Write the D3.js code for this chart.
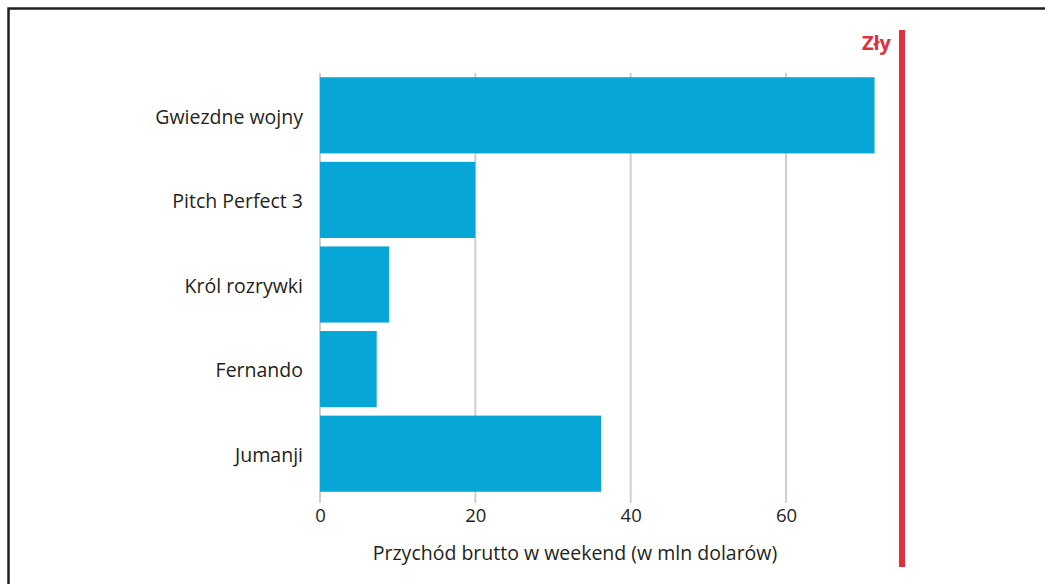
<!DOCTYPE html>
<html lang="pl">
<head>
<meta charset="UTF-8">
<title>Przychód brutto w weekend</title>
<script src="https://d3js.org/d3.v7.min.js"></script>
<style>
    body { margin: 0; background: #fff; }
    text { font-family: "Open Sans", sans-serif; fill: #231f20; }
</style>
</head>
<body>
<div id="chart"></div>
<script>
// data
const movies = ["Gwiezdne wojny", "Pitch Perfect 3", "Król rozrywki", "Fernando", "Jumanji"];
const gross = [71.4, 20, 8.9, 7.3, 36.2];
const xTicks = [0, 20, 40, 60];
const axisTitle = "Przychód brutto w weekend (w mln dolarów)";
const badLabel = "Zły";

const W = 1045, H = 584;

const svg = d3.select("#chart").append("svg")
    .attr("width", W)
    .attr("height", H);

// frame (top + left visible)
svg.append("path")
    .attr("d", "M8.5," + H + "V8.5H" + W)
    .attr("fill", "none")
    .attr("stroke", "#231f20")
    .attr("stroke-width", 2.5);

const x = d3.scaleLinear().domain([0, 60]).range([320, 786]);
const y = d3.scaleBand().domain(movies).range([73, 496])
    .paddingInner(0.1).paddingOuter(0.05);

// gridlines
svg.append("g").selectAll("line")
    .data(xTicks)
    .join("line")
    .attr("x1", d => x(d)).attr("x2", d => x(d))
    .attr("y1", 73).attr("y2", 503)
    .attr("stroke", "#cfcfcf")
    .attr("stroke-width", 2);

// bars
svg.append("g").selectAll("rect")
    .data(movies)
    .join("rect")
    .attr("x", x(0))
    .attr("y", d => y(d))
    .attr("width", (d, i) => x(gross[i]) - x(0))
    .attr("height", y.bandwidth())
    .attr("fill", "#08a6d6");

// x axis
const xAxis = svg.append("g")
    .attr("transform", "translate(0,503)")
    .call(d3.axisBottom(x).tickValues(xTicks).tickSize(0).tickPadding(6));
xAxis.select(".domain").remove();
xAxis.selectAll("text")
    .attr("font-size", 18.5)
    .style("font-family", "'Open Sans', sans-serif")
    .attr("fill", "#231f20");

// y labels
const yAxis = svg.append("g")
    .attr("transform", "translate(303,2)")
    .call(d3.axisLeft(y).tickSize(0).tickPadding(0));
yAxis.select(".domain").remove();
yAxis.selectAll("text")
    .attr("font-size", 19.5)
    .style("font-family", "'Open Sans', sans-serif")
    .attr("fill", "#231f20");

svg.append("text")
    .attr("x", 575)
    .attr("y", 560)
    .attr("text-anchor", "middle")
    .attr("font-size", 19.5)
    .text(axisTitle);

// red marker
svg.append("line")
    .attr("x1", 902).attr("x2", 902)
    .attr("y1", 30).attr("y2", 567)
    .attr("stroke", "#e02f3f")
    .attr("stroke-width", 6);

svg.append("text")
    .attr("x", 891)
    .attr("y", 50)
    .attr("text-anchor", "end")
    .attr("font-size", 20)
    .attr("font-weight", "bold")
    .style("fill", "#e02f3f")
    .text(badLabel);
</script>
</body>
</html>
